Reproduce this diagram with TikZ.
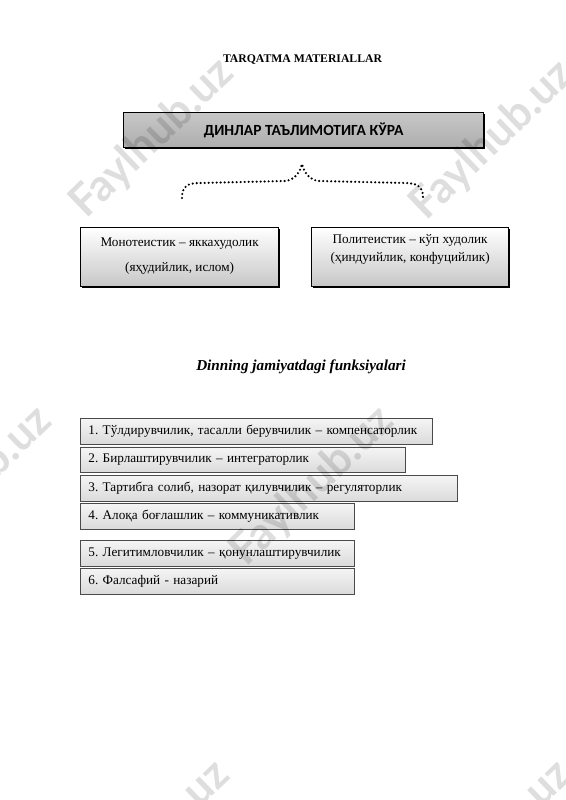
\documentclass[tikz,border=0pt]{standalone}
\usepackage{fontspec}
\setmainfont{Liberation Serif}
\newfontfamily\titlefont{Carlito}
\newfontfamily\markfont{Lato}
\usepackage{tikz}
\usetikzlibrary{shadows}
\definecolor{frame_gray}{HTML}{4A4A4A}
\frenchspacing

\begin{document}
\begin{tikzpicture}[x=1pt, y=-1pt, every node/.style={font=\fontsize{13.2}{15.8}\selectfont},
    titlebox/.style={draw=black, line width=1.4pt, top color=black!22, middle color=white, bottom color=black!32,
      drop shadow={shadow xshift=1pt, shadow yshift=-1pt, fill=black, opacity=1}},
    sidebox/.style={draw=black, line width=1.2pt, top color=white, bottom color=black!22,
      drop shadow={shadow xshift=1pt, shadow yshift=-1pt, fill=black, opacity=1}},
    listbox/.style={draw=frame_gray, line width=0.8pt, top color=black!4, bottom color=black!14,
      inner xsep=8pt, inner ysep=0pt, minimum height=25.5, align=left,
      drop shadow={shadow xshift=0.8pt, shadow yshift=-0.8pt, fill=black!60, opacity=1}},
    bracedots/.style={line width=2.4pt, line cap=round, dash pattern=on 0pt off 4pt},
    wmark/.style={font=\markfont\bfseries\fontsize{44}{44}\selectfont, text=black, opacity=0.13, rotate=44, anchor=east}]

    \useasboundingbox (0,0) rectangle (565,800);

    \node[font=\bfseries\fontsize{11.7}{14}\selectfont] (heading) at (302.5,60) {TARQATMA MATERIALLAR};

    \node[titlebox, anchor=north west, minimum width=360, minimum height=35,
      font=\titlefont\bfseries\fontsize{15.5}{17}\selectfont] (dinlar) at (123,112) {ДИНЛАР ТАЪЛИМОТИГА КЎРА};

    % dotted brace under the title
    \coordinate (braceL) at (182,198);
    \coordinate (braceTip) at (302,164);
    \coordinate (braceR) at (423,197);
    \draw[bracedots] (braceL) .. controls (182,186) and (188,183) .. (200,183) -- (285,181)
      .. controls (295,180) and (300,172) .. (braceTip)
      .. controls (304,172) and (309,180) .. (319,181) -- (405,183)
      .. controls (416,183) and (423,186) .. (braceR);

    \node[sidebox, anchor=north west, minimum width=198, minimum height=59] (mono) at (80,227) {};
    \node[align=center] (monoText) at ([yshift=1pt]mono.center) {Монотеистик – яккахудолик\\[9.2pt](яҳудийлик, ислом)};

    \node[sidebox, anchor=north west, minimum width=197, minimum height=59] (poly) at (311,227) {};
    \node[align=center] (polyText) at ([yshift=7.5pt]poly.center) {Политеистик – кўп худолик\\[2.2pt](ҳиндуийлик, конфуцийлик)};


    \node[font=\bfseries\itshape\fontsize{15.2}{17}\selectfont] (functions) at (301,367) {Dinning jamiyatdagi funksiyalari};

    \node[listbox, anchor=north west, text width=336pt] (fn1) at (80,418) {1. Тўлдирувчилик, тасалли берувчилик – компенсаторлик};
    \node[listbox, anchor=north west, text width=309pt] (fn2) at (80,446.5) {2. Бирлаштирувчилик – интеграторлик};
    \node[listbox, anchor=north west, text width=361pt] (fn3) at (80,475) {3. Тартибга солиб, назорат қилувчилик – регуляторлик};
    \node[listbox, anchor=north west, text width=258pt] (fn4) at (80,503) {4. Алоқа боғлашлик – коммуникативлик};
    \node[listbox, anchor=north west, text width=258pt] (fn5) at (80,540) {5. Легитимловчилик – қонунлаштирувчилик};
    \node[listbox, anchor=north west, text width=258pt] (fn6) at (80,568) {6. Фалсафий - назарий};

    % watermark
    \node[wmark] (mark1) at (230,64) {Faylhub.uz};
    \node[wmark] (mark2) at (570,66) {Faylhub.uz};
    \node[wmark] (mark3) at (48,412) {Faylhub.uz};
    \node[wmark] (mark4) at (390,412) {Faylhub.uz};
    \node[wmark] (mark5) at (226,766) {Faylhub.uz};
    \node[wmark] (mark6) at (568,766) {Faylhub.uz};

\end{tikzpicture}
\end{document}
